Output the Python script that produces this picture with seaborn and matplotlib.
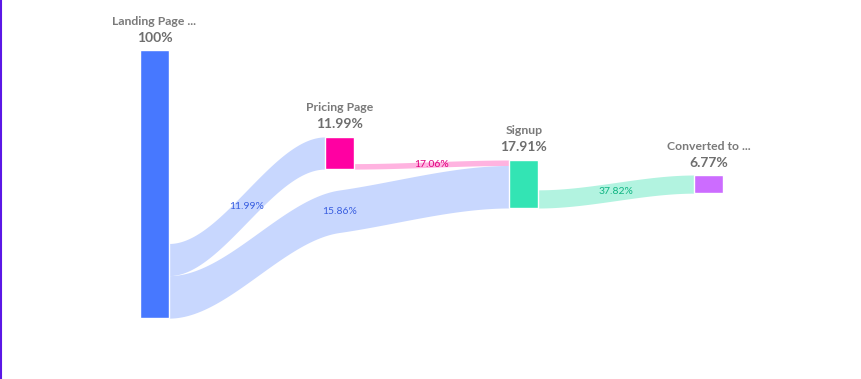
import numpy as np
import matplotlib
matplotlib.use("Agg")
import matplotlib.pyplot as plt
from matplotlib.lines import Line2D
import seaborn as sns

# Funnel steps, share of the first step (%)
stage_names = ["Landing Page ...", "Pricing Page", "Signup", "Converted to ..."]
stage_pct = [100, 11.99, 17.91, 6.77]

# Links between steps, label = share of the source step (%)
link_source = [0, 0, 1, 2]
link_target = [1, 2, 2, 3]
link_pct = [11.99, 15.86, 17.06, 37.82]

node_colors = ["#4778FF", "#FF00A2", "#33E4B4", "#CC6CFF"]
link_colors = ["#C8D7FE", "#C8D7FE", "#FFB3E0", "#B2F3E0"]
label_colors = ["#3A5FE0", "#3A5FE0", "#E0007E", "#10B583"]

# layout (x = step index, y = % units, axis inverted)
px_per_pct = 2.68
node_top = [18.7, 51.1, 59.7, 65.3]
skip_top = 70.9  # where a link that skips a step passes the middle column
node_w = 0.157

sns.set_style("white")
plt.rcParams['font.family'] = ['Lato', 'DejaVu Sans']


def hermite(kx, ky, n=80):
    # smooth curve through knots, flat at both ends
    kx, ky = np.asarray(kx, float), np.asarray(ky, float)
    m = np.zeros(len(kx))
    for i in range(1, len(kx) - 1):
        s0 = (ky[i] - ky[i - 1]) / (kx[i] - kx[i - 1])
        s1 = (ky[i + 1] - ky[i]) / (kx[i + 1] - kx[i])
        if s0 * s1 > 0:
            m[i] = np.sign(s0) * min(abs(s0), abs(s1))
    xs, ys = [], []
    for i in range(len(kx) - 1):
        h = kx[i + 1] - kx[i]
        t = np.linspace(0, 1, n)
        h00 = 2 * t**3 - 3 * t**2 + 1
        h10 = t**3 - 2 * t**2 + t
        h01 = -2 * t**3 + 3 * t**2
        h11 = t**3 - t**2
        xs.append(kx[i] + t * h)
        ys.append(h00 * ky[i] + h10 * h * m[i] + h01 * ky[i + 1] + h11 * h * m[i + 1])
    return np.concatenate(xs), np.concatenate(ys)


flows = [stage_pct[s] * p / 100 for s, p in zip(link_source, link_pct)]

# where each link leaves its source (outflows stacked at the bottom)
src_y = {}
for node in range(len(stage_pct)):
    out = [i for i, s in enumerate(link_source) if s == node]
    y = node_top[node] + stage_pct[node] - sum(flows[i] for i in out)
    for i in out:
        src_y[i] = y
        y += flows[i]

# where each link enters its target (stacked from the top)
tgt_y = {}
for node in range(len(stage_pct)):
    inc = [i for i, t in enumerate(link_target) if t == node]
    inc.sort(key=lambda i: skip_top if link_target[i] - link_source[i] > 1 else src_y[i])
    y = node_top[node]
    for i in inc:
        tgt_y[i] = y
        y += flows[i]

fig = plt.figure(figsize=(8.61, 3.79), dpi=100)
ax = fig.add_axes([0, 0, 1, 1])
ax.set_xlim(-154.5 / 184.67, (861 - 154.5) / 184.67)
ax.set_ylim(379 / px_per_pct, 0)
ax.axis("off")

for i in range(len(flows)):
    s, t, w = link_source[i], link_target[i], flows[i]
    kx = [s + node_w / 2]
    ky = [src_y[i] + w / 2]
    for mid in range(s + 1, t):
        kx.append(mid)
        ky.append(skip_top + w / 2)
    kx.append(t - node_w / 2)
    ky.append(tgt_y[i] + w / 2)
    xx, cc = hermite(kx, ky)
    ax.fill_between(xx, cc - w / 2, cc + w / 2, color=link_colors[i], lw=0, zorder=1)
    if len(kx) > 2:
        lx, ly = kx[1], ky[1]
    else:
        lx, ly = (kx[0] + kx[1]) / 2, (ky[0] + ky[1]) / 2
    ax.text(lx, ly, f"{link_pct[i]:.2f}%", color=label_colors[i], fontsize=7.5,
            ha="center", va="center", zorder=3)

steps = np.arange(len(stage_pct))
ax.bar(steps, stage_pct, bottom=node_top, width=node_w, color=node_colors, zorder=2)

for i in steps:
    ax.text(i, node_top[i] - 29 / px_per_pct, stage_names[i], color="#7A7A7A",
            fontsize=8.8, fontweight="bold", ha="center", va="center")
    ax.text(i, node_top[i] - 12.5 / px_per_pct, f"{stage_pct[i]:g}%", color="#6E6E6E",
            fontsize=10, fontweight="bold", ha="center", va="center")

fig.add_artist(Line2D([0.001, 0.001], [0, 1], transform=fig.transFigure,
                      color="#5B17E6", lw=1.5))

fig.savefig("out.png", dpi=100)
